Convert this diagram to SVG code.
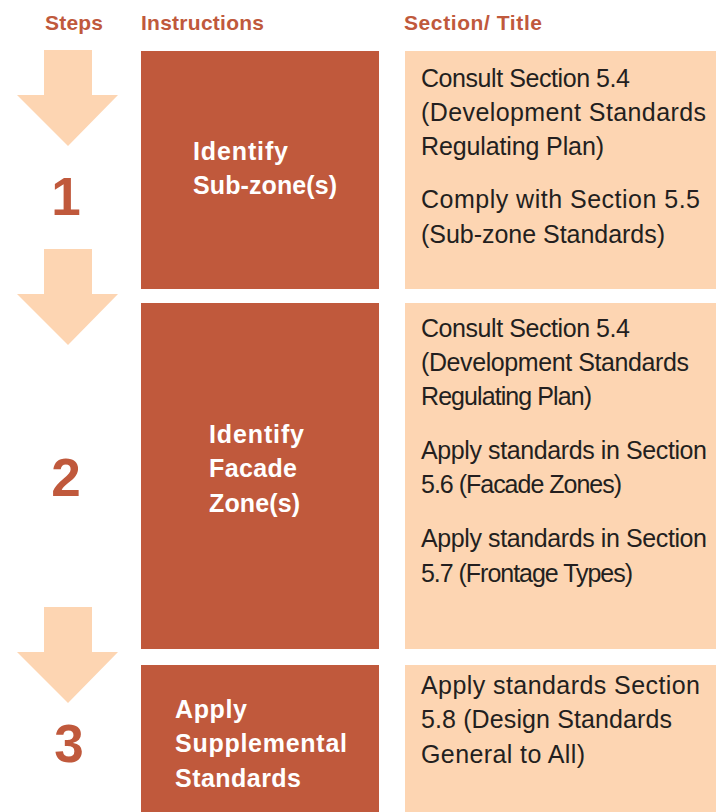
<svg xmlns="http://www.w3.org/2000/svg" width="727" height="812" viewBox="0 0 727 812">
<style>
.hdr{font-family:"Liberation Sans",Arial,sans-serif;font-weight:bold;font-size:21px;fill:#c0593c}
.num{font-family:"Liberation Sans",Arial,sans-serif;font-weight:bold;font-size:53px;fill:#c0593c;text-anchor:middle}
.dark{fill:#c0593c}
.light{fill:#fdd5b2}
.ins{font-family:"Liberation Sans",Arial,sans-serif;font-weight:bold;font-size:25px;fill:#ffffff}
.sec{font-family:"Liberation Sans",Arial,sans-serif;font-size:25px;fill:#231f20}
</style>
<defs>
<polygon id="arrow" points="44,0 92,0 92,45 118,45 68,96 17,45 44,45"/>
</defs>
<g id="headers">
<text class="hdr" x="45" y="30" textLength="58">Steps</text>
<text class="hdr" x="141" y="30" textLength="123">Instructions</text>
<text class="hdr" x="404" y="30" textLength="138">Section/ Title</text>
</g>
<g id="connectors">
<use href="#arrow" class="light" y="50"/>
<use href="#arrow" class="light" y="249"/>
<use href="#arrow" class="light" y="607"/>
</g>
<g id="step1">
<text class="num" x="66" y="215">1</text>
<rect class="dark" x="141" y="51" width="238" height="238"/>
<text class="ins" x="193" y="160" textLength="95">Identify</text>
<text class="ins" x="193" y="194" textLength="144">Sub-zone(s)</text>
<rect class="light" x="405" y="51" width="311" height="238"/>
<text class="sec" x="421" y="87" textLength="209">Consult Section 5.4</text>
<text class="sec" x="421" y="121" textLength="285">(Development Standards</text>
<text class="sec" x="421" y="155" textLength="183">Regulating Plan)</text>
<text class="sec" x="421" y="208" textLength="279">Comply with Section 5.5</text>
<text class="sec" x="421" y="243" textLength="244">(Sub-zone Standards)</text>
</g>
<g id="step2">
<text class="num" x="66" y="496">2</text>
<rect class="dark" x="141" y="303" width="238" height="346"/>
<text class="ins" x="209" y="443" textLength="95">Identify</text>
<text class="ins" x="209" y="477" textLength="88">Facade</text>
<text class="ins" x="209" y="512" textLength="91">Zone(s)</text>
<rect class="light" x="405" y="303" width="311" height="346"/>
<text class="sec" x="421" y="337" textLength="209">Consult Section 5.4</text>
<text class="sec" x="421" y="371" textLength="268">(Development Standards</text>
<text class="sec" x="421" y="405" textLength="171">Regulating Plan)</text>
<text class="sec" x="421" y="459" textLength="286">Apply standards in Section</text>
<text class="sec" x="421" y="493" textLength="201">5.6 (Facade Zones)</text>
<text class="sec" x="421" y="547" textLength="286">Apply standards in Section</text>
<text class="sec" x="421" y="582" textLength="212">5.7 (Frontage Types)</text>
</g>
<g id="step3">
<text class="num" x="69" y="762">3</text>
<rect class="dark" x="141" y="665" width="238" height="147"/>
<text class="ins" x="175" y="718" textLength="72">Apply</text>
<text class="ins" x="175" y="752" textLength="172">Supplemental</text>
<text class="ins" x="175" y="787" textLength="126">Standards</text>
<rect class="light" x="405" y="665" width="311" height="147"/>
<text class="sec" x="421" y="694" textLength="279">Apply standards Section</text>
<text class="sec" x="421" y="728" textLength="251">5.8 (Design Standards</text>
<text class="sec" x="421" y="763" textLength="164">General to All)</text>
</g>
</svg>
